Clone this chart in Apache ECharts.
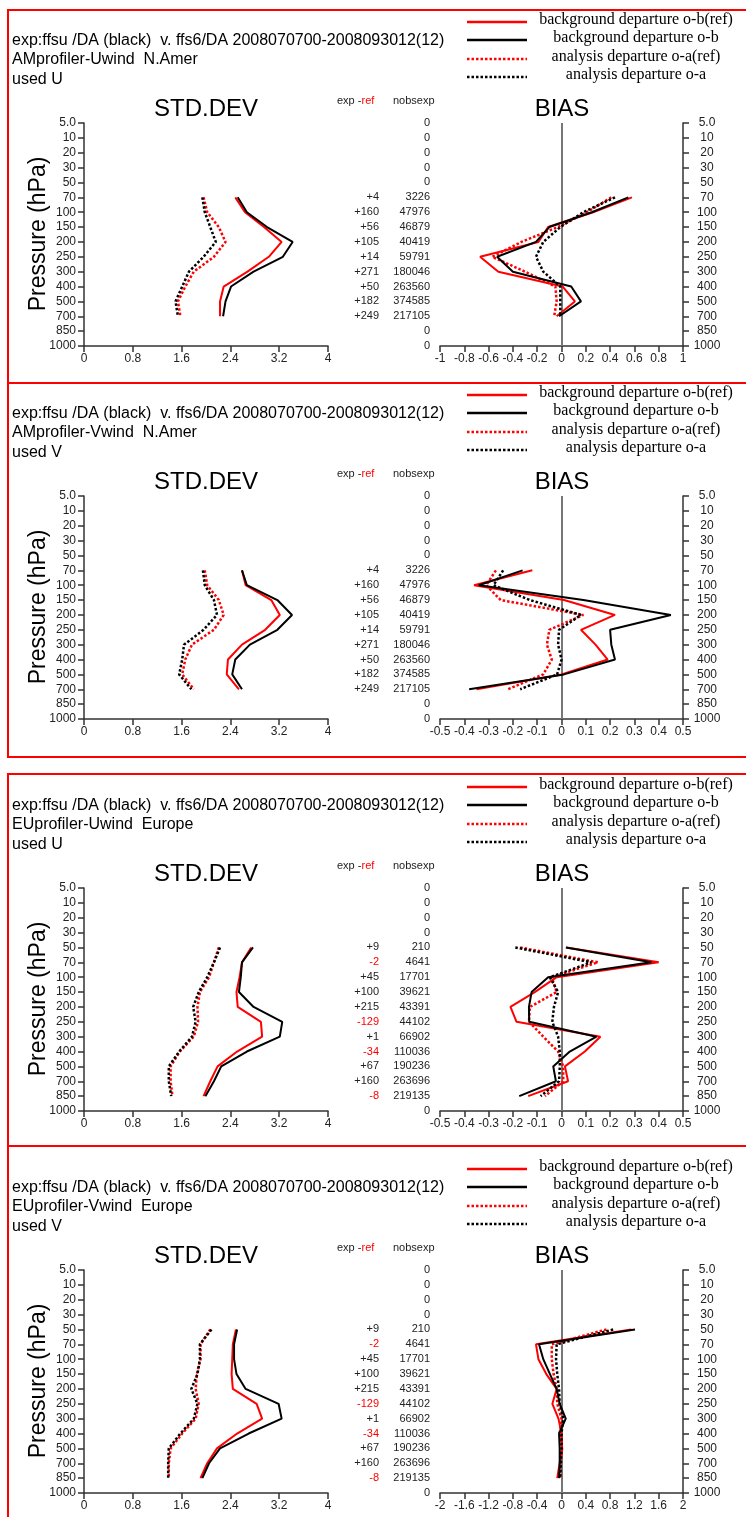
<!DOCTYPE html>
<html>
<head>
<meta charset="utf-8">
<script src="https://cdn.jsdelivr.net/npm/echarts@6/dist/echarts.min.js"></script>
<style>
html,body{margin:0;padding:0;background:#fff;}
#c{width:746px;height:1517px;}
</style>
</head>
<body>
<div id="c"></div>
<script>
// ---------------- DATA ----------------
const levels = ['5.0','10','20','30','50','70','100','150','200','250','300','400','500','700','850','1000'];
const levelsAm = ['70','100','150','200','250','300','400','500','700'];
const levelsEu = ['50','70','100','150','200','250','300','400','500','700','850'];

const nobsAm = ['0','0','0','0','0','3226','47976','46879','40419','59791','180046','263560','374585','217105','0','0'];
const expRefAm = ['','','','','','+4','+160','+56','+105','+14','+271','+50','+182','+249','',''];
const nobsEu = ['0','0','0','0','210','4641','17701','39621','43391','44102','66902','110036','190236','263696','219135','0'];
const expRefEu = ['','','','','+9','-2','+45','+100','+215','-129','+1','-34','+67','+160','-8',''];

const headerLine = 'exp:ffsu /DA (black)  v. ffs6/DA 2008070700-2008093012(12)';
const panelNames = ['AMprofiler-Uwind  N.Amer','AMprofiler-Vwind  N.Amer','EUprofiler-Uwind  Europe','EUprofiler-Vwind  Europe'];
const panelUsed = ['used U','used V','used U','used V'];
const legendLabels = ['background departure o-b(ref)','background departure o-b','analysis departure o-a(ref)','analysis departure o-a'];

const stdTicks = [0, 4, 0.8];
const biasTicks = [[-1, 1, 0.2], [-0.5, 0.5, 0.1], [-0.5, 0.5, 0.1], [-2, 2, 0.4]];

// panel 1: AM U
const p1StdRefBg = [2.48,2.64,2.95,3.24,3.03,2.68,2.29,2.23,2.23];
const p1StdExpBg = [2.52,2.67,3.00,3.42,3.26,2.78,2.41,2.32,2.28];
const p1StdRefAn = [1.96,2.02,2.21,2.32,2.13,1.80,1.66,1.54,1.58];
const p1StdExpAn = [1.94,1.98,2.07,2.16,1.96,1.72,1.61,1.50,1.54];
const p1BiasRefBg = [0.58,0.26,-0.11,-0.19,-0.67,-0.52,0.01,0.11,-0.04];
const p1BiasExpBg = [0.55,0.25,-0.10,-0.21,-0.53,-0.40,0.08,0.16,-0.02];
const p1BiasRefAn = [0.41,0.21,-0.03,-0.33,-0.57,-0.30,-0.05,-0.04,-0.06];
const p1BiasExpAn = [0.44,0.18,-0.01,-0.15,-0.21,-0.15,-0.01,-0.01,-0.01];
// panel 2: AM V
const p2StdRefBg = [2.59,2.65,3.07,3.21,2.97,2.59,2.36,2.34,2.54];
const p2StdExpBg = [2.59,2.67,3.17,3.41,3.17,2.72,2.48,2.43,2.59];
const p2StdRefAn = [1.98,2.02,2.21,2.29,2.13,1.77,1.66,1.61,1.80];
const p2StdExpAn = [1.95,1.98,2.13,2.18,1.96,1.64,1.61,1.56,1.76];
const p2BiasRefBg = [-0.12,-0.36,0.01,0.22,0.08,0.14,0.19,0.00,-0.35];
const p2BiasExpBg = [-0.16,-0.34,0.09,0.45,0.20,0.205,0.22,0.01,-0.38];
const p2BiasRefAn = [-0.27,-0.31,-0.25,0.09,-0.05,-0.06,-0.04,-0.075,-0.22];
const p2BiasExpAn = [-0.24,-0.28,-0.13,0.08,-0.01,-0.014,0.00,-0.018,-0.17];
// panel 3: EU U
const p3StdRefBg = [2.74,2.59,2.55,2.50,2.52,2.90,2.92,2.51,2.19,2.07,1.96];
const p3StdExpBg = [2.77,2.59,2.57,2.54,2.78,3.25,3.21,2.67,2.25,2.13,1.99];
const p3StdRefAn = [2.21,2.13,2.05,1.90,1.86,1.87,1.80,1.57,1.42,1.42,1.45];
const p3StdExpAn = [2.23,2.13,2.02,1.88,1.79,1.83,1.77,1.56,1.39,1.39,1.43];
const p3BiasRefBg = [0.02,0.40,-0.02,-0.11,-0.21,-0.185,0.16,0.096,0.014,0.027,-0.137];
const p3BiasExpBg = [0.018,0.37,-0.055,-0.123,-0.134,-0.133,0.144,0.034,-0.034,-0.023,-0.174];
const p3BiasRefAn = [-0.17,0.15,-0.04,-0.02,-0.13,-0.134,-0.075,-0.014,0.007,0.007,-0.068];
const p3BiasExpAn = [-0.19,0.123,-0.048,-0.014,-0.031,-0.038,-0.014,-0.007,-0.007,-0.01,-0.086];
// panel 4: EU V
const p4StdRefBg = [2.49,2.44,2.43,2.42,2.44,2.83,2.92,2.51,2.18,2.02,1.91];
const p4StdExpBg = [2.51,2.46,2.46,2.50,2.65,3.19,3.24,2.70,2.23,2.05,1.94];
const p4StdRefAn = [2.07,1.91,1.91,1.85,1.83,1.88,1.83,1.61,1.42,1.39,1.39];
const p4StdExpAn = [2.09,1.90,1.90,1.86,1.76,1.86,1.80,1.58,1.39,1.38,1.38];
const p4BiasRefBg = [1.15,-0.42,-0.38,-0.25,-0.08,-0.15,-0.05,0.00,0.01,-0.03,-0.07];
const p4BiasExpBg = [1.21,-0.37,-0.30,-0.19,-0.08,-0.03,0.07,-0.04,-0.03,-0.03,-0.04];
const p4BiasRefAn = [0.74,-0.16,-0.16,-0.13,-0.08,-0.07,0.00,-0.03,0.01,-0.02,-0.03];
const p4BiasExpAn = [0.85,-0.08,-0.09,-0.07,-0.04,-0.03,0.03,0.00,0.00,-0.01,-0.02];

// ---------------- LAYOUT / STYLE ----------------
const SANS = '"Liberation Sans", Arial, sans-serif';
const SERIF = '"Liberation Serif", "Times New Roman", serif';
const RED = '#ff0000', BLACK = '#000000', AX = '#333333';
const OFF = [0, 373, 765, 1147];
const GT = 123, GH = 223;

const panels = [
  {lv: levelsAm, nobs: nobsAm, er: expRefAm, std: [p1StdRefBg,p1StdExpBg,p1StdRefAn,p1StdExpAn], bias: [p1BiasRefBg,p1BiasExpBg,p1BiasRefAn,p1BiasExpAn]},
  {lv: levelsAm, nobs: nobsAm, er: expRefAm, std: [p2StdRefBg,p2StdExpBg,p2StdRefAn,p2StdExpAn], bias: [p2BiasRefBg,p2BiasExpBg,p2BiasRefAn,p2BiasExpAn]},
  {lv: levelsEu, nobs: nobsEu, er: expRefEu, std: [p3StdRefBg,p3StdExpBg,p3StdRefAn,p3StdExpAn], bias: [p3BiasRefBg,p3BiasExpBg,p3BiasRefAn,p3BiasExpAn]},
  {lv: levelsEu, nobs: nobsEu, er: expRefEu, std: [p4StdRefBg,p4StdExpBg,p4StdRefAn,p4StdExpAn], bias: [p4BiasRefBg,p4BiasExpBg,p4BiasRefAn,p4BiasExpAn]}
];
const lineStyles = [
  {color: RED, width: 2, type: 'solid'},
  {color: BLACK, width: 2, type: 'solid'},
  {color: RED, width: 2.5, type: [2.5, 2]},
  {color: BLACK, width: 2.5, type: [2.5, 2]}
];
const drawOrder = [0, 2, 3, 1];

const grid = [], xAxis = [], yAxis = [], series = [], graphic = [];

function valueAxis(gi, mn, mx, iv) {
  return {gridIndex: gi, type: 'value', min: mn, max: mx, interval: iv,
    axisLine: {show: true, onZero: false, lineStyle: {color: AX, width: 1.5}},
    axisTick: {show: true, length: 6, lineStyle: {color: AX, width: 1.5}},
    axisLabel: {fontSize: 12, color: '#222', fontFamily: SANS, margin: 7},
    splitLine: {show: false}};
}

panels.forEach((p, i) => {
  const off = OFF[i];
  const gS = grid.length;
  grid.push({left: 84, top: GT + off, width: 244, height: GH});
  const gB = grid.length;
  grid.push({left: 440, top: GT + off, width: 243, height: GH});

  const xS = xAxis.length;
  xAxis.push(valueAxis(gS, stdTicks[0], stdTicks[1], stdTicks[2]));
  const xB = xAxis.length;
  xAxis.push(valueAxis(gB, biasTicks[i][0], biasTicks[i][1], biasTicks[i][2]));

  const yS = yAxis.length;
  yAxis.push({gridIndex: gS, type: 'category', data: levels, inverse: true, boundaryGap: false,
    axisLine: {show: true, onZero: false, lineStyle: {color: AX, width: 1.5}},
    axisTick: {show: true, length: 6, interval: 0, lineStyle: {color: AX, width: 1.5}},
    axisLabel: {interval: 0, fontSize: 12, color: '#222', fontFamily: SANS, margin: 8},
    splitLine: {show: false}});
  const yB = yAxis.length;
  yAxis.push({gridIndex: gB, type: 'category', data: levels, inverse: true, boundaryGap: false, position: 'right',
    axisLine: {show: true, onZero: false, lineStyle: {color: AX, width: 1.5}},
    axisTick: {show: true, length: 6, interval: 0, lineStyle: {color: AX, width: 1.5}},
    axisLabel: {interval: 0, fontSize: 12, color: '#222', fontFamily: SANS, margin: 24, align: 'center'},
    splitLine: {show: false}});
  yAxis.push({gridIndex: gB, type: 'category', data: levels, inverse: true, boundaryGap: false, position: 'left',
    axisLine: {show: false, onZero: false}, axisTick: {show: false},
    axisLabel: {interval: 0, fontSize: 11, color: '#222', fontFamily: SANS, margin: 10,
      formatter: (v, idx) => p.nobs[idx]},
    splitLine: {show: false}});
  yAxis.push({gridIndex: gB, type: 'category', data: levels, inverse: true, boundaryGap: false, position: 'left', offset: 51,
    axisLine: {show: false, onZero: false}, axisTick: {show: false},
    axisLabel: {interval: 0, fontSize: 11, fontFamily: SANS, margin: 10,
      formatter: (v, idx) => p.er[idx],
      color: (v, idx) => (p.er[idx] && p.er[idx][0] === '-') ? RED : '#222'},
    splitLine: {show: false}});

  drawOrder.forEach((k, n) => {
    series.push({type: 'line', xAxisIndex: xS, yAxisIndex: yS, symbol: 'none', silent: true,
      data: p.std[k].map((v, j) => [v, p.lv[j]]), lineStyle: lineStyles[k]});
    const s = {type: 'line', xAxisIndex: xB, yAxisIndex: yB, symbol: 'none', silent: true,
      data: p.bias[k].map((v, j) => [v, p.lv[j]]), lineStyle: lineStyles[k], z: 3};
    if (n === 0) {
      s.markLine = {silent: true, symbol: ['none', 'none'], label: {show: false}, z: 1,
        lineStyle: {color: '#777', width: 2, type: 'solid'}, data: [{xAxis: 0}]};
    }
    series.push(s);
  });

  // texts
  const t = (txt, x, y, opt) => graphic.push(Object.assign({type: 'text', x: x, y: y, silent: true,
    style: Object.assign({text: txt, font: '16px ' + SANS, fill: '#000', align: 'left', verticalAlign: 'middle'}, opt || {})}));
  t(headerLine, 12, 41 + off);
  t(panelNames[i], 12, 60 + off);
  t(panelUsed[i], 12, 80 + off);
  t('STD.DEV', 206, 109 + off, {font: '24px ' + SANS, align: 'center'});
  t('BIAS', 562, 109 + off, {font: '24px ' + SANS, align: 'center'});
  t('exp -', 337, 101 + off, {font: '11px ' + SANS, fill: '#222'});
  t('ref', 361.5, 101 + off, {font: '11px ' + SANS, fill: RED});
  t('nobsexp', 393, 101 + off, {font: '11px ' + SANS, fill: '#222'});
  graphic.push({type: 'text', x: 39, y: 234 + off, rotation: Math.PI / 2, silent: true,
    style: {text: 'Pressure (hPa)', font: '23px ' + SANS, fill: '#000', align: 'center', verticalAlign: 'middle'}});
  // legend
  const ly = [22, 40, 59, 77];
  ly.forEach((yy, k) => {
    const ls = lineStyles[k];
    graphic.push({type: 'line', silent: true, shape: {x1: 467, y1: yy + off, x2: 527, y2: yy + off},
      style: {stroke: ls.color, lineWidth: 2.5, lineDash: Array.isArray(ls.type) ? [2.5, 2] : null}});
    t(legendLabels[k], 636, yy - 2 + off, {font: '16px ' + SERIF, align: 'center'});
  });
});

// frame lines
const frame = [
  [8, 10, 8, 757], [8, 774, 8, 1517],
  [7, 10, 746, 10], [7, 383, 746, 383], [7, 757, 746, 757],
  [7, 774, 746, 774], [7, 1146, 746, 1146]
];
frame.forEach(f => graphic.push({type: 'line', silent: true,
  shape: {x1: f[0], y1: f[1], x2: f[2], y2: f[3]}, style: {stroke: RED, lineWidth: 2}}));

const chart = echarts.init(document.getElementById('c'), null, {renderer: 'canvas'});
chart.setOption({animation: false, backgroundColor: '#fff', grid, xAxis, yAxis, series, graphic});
</script>
</body>
</html>
